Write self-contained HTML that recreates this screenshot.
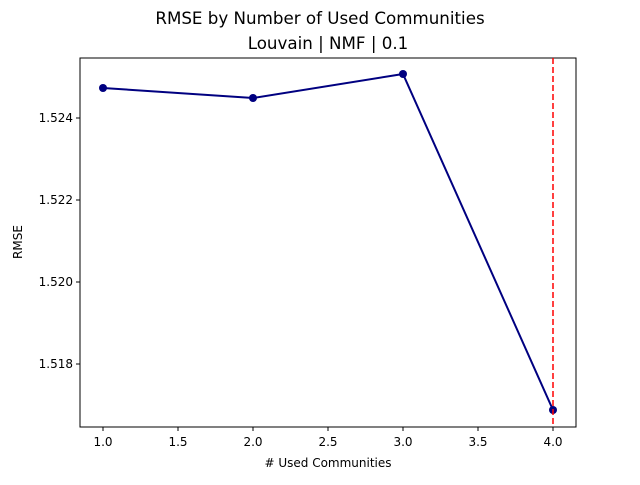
<!DOCTYPE html>
<html><head><meta charset="utf-8"><style>
body{margin:0;background:#fff;}
svg text{font-family:"DejaVu Sans","Liberation Sans",sans-serif;fill:#000;}
</style></head><body>
<svg id="chart" width="640" height="480">
<text x="320" y="24" font-size="16.7" text-anchor="middle">RMSE by Number of Used Communities</text>
<text x="328" y="49" font-size="16.7" text-anchor="middle">Louvain | NMF | 0.1</text>
<rect x="80" y="58" width="496" height="369" fill="none" stroke="#000" stroke-width="1"/>
<g id="xticks"></g>
<g id="yticks"></g>
<text x="328" y="467" font-size="12" text-anchor="middle"># Used Communities</text>
<text x="22" y="242" font-size="12" text-anchor="middle" transform="rotate(-90 22 242)">RMSE</text>
<g id="series"></g>
</svg>
<script>
const xValues = [1, 2, 3, 4];
const rmseValues = [1.524732, 1.524488, 1.525073, 1.516878];
const xTickLabels = ["1.0","1.5","2.0","2.5","3.0","3.5","4.0"];
const yTickLabels = ["1.518","1.520","1.522","1.524"];
const bestX = 4;

const NS = "http://www.w3.org/2000/svg";
function sx(v){ return 103 + (v - 1) * 150; }
function sy(v){ return 118 + (1.524 - v) * 41000; }
function mk(tag, attrs, parent){ const e=document.createElementNS(NS,tag); for(const k in attrs) e.setAttribute(k,attrs[k]); parent.appendChild(e); return e; }

const xg=document.getElementById('xticks');
xTickLabels.forEach(l=>{
  const x=sx(parseFloat(l));
  const t=mk('line',{x1:x,x2:x,y1:427,y2:431,stroke:'#000'},xg);
  
  
  const tx=mk('text',{x:x,y:446,'font-size':12,'text-anchor':'middle'},xg);
  tx.textContent=l;
  
  
});
const yg=document.getElementById('yticks');
yTickLabels.forEach(l=>{
  const y=sy(parseFloat(l));
  const t=mk('line',{x1:76,x2:80,y1:y,y2:y,stroke:'#000'},yg);
  
  
  const tx=mk('text',{x:73,y:y+4,'font-size':12,'text-anchor':'end'},yg);
  tx.textContent=l;
  
  
});
const sg=document.getElementById('series');
const pts=xValues.map((x,i)=>sx(x)+','+sy(rmseValues[i])).join(' ');
const pl=mk('polyline',{points:pts,fill:'none',stroke:'#000080','stroke-width':2},sg);


xValues.forEach((x,i)=>{
  const c=mk('circle',{cx:sx(x),cy:sy(rmseValues[i]),r:4,fill:'#000080'},sg);
  
  
});
const vl=mk('line',{x1:sx(bestX),x2:sx(bestX),y1:58,y2:427,stroke:'#ff0000','stroke-width':1.5,'stroke-dasharray':'6,3'},sg);


</script>
</body></html>
